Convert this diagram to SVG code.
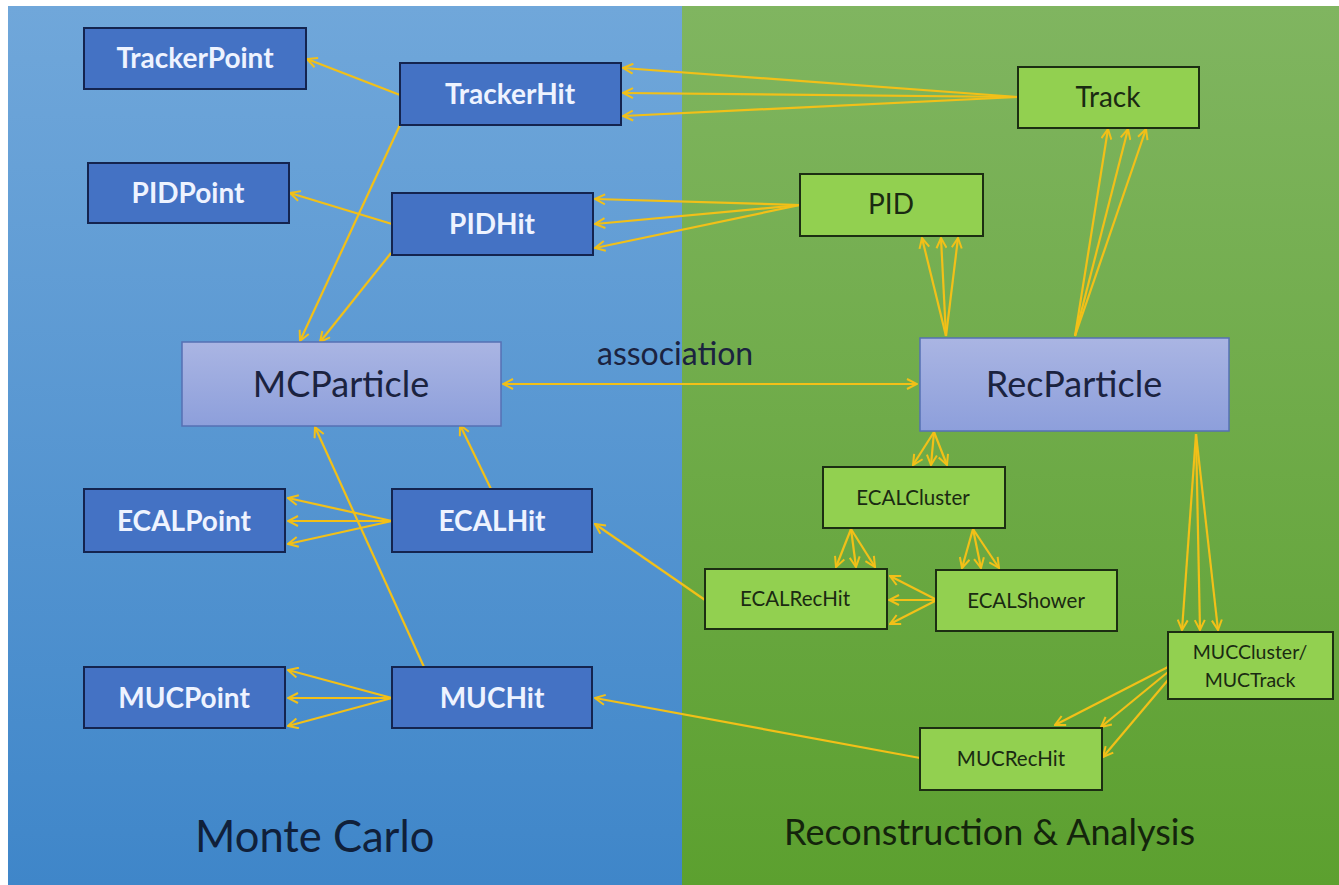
<svg xmlns="http://www.w3.org/2000/svg" width="1339" height="885" viewBox="0 0 1339 885">
  <defs>
    <linearGradient id="bgBlue" x1="0" y1="0" x2="0" y2="1">
      <stop offset="0" stop-color="#70a7da"/>
      <stop offset="1" stop-color="#3f86c9"/>
    </linearGradient>
    <linearGradient id="bgGreen" x1="0" y1="0" x2="0" y2="1">
      <stop offset="0" stop-color="#80b560"/>
      <stop offset="1" stop-color="#5ca02f"/>
    </linearGradient>
    <linearGradient id="particleFill" x1="0" y1="0" x2="0" y2="1">
      <stop offset="0" stop-color="#aab5e3"/>
      <stop offset="1" stop-color="#8d9fdb"/>
    </linearGradient>
    <marker id="head" viewBox="0 0 12 12" refX="11" refY="6" markerWidth="12" markerHeight="12" markerUnits="userSpaceOnUse" orient="auto-start-reverse">
      <path d="M1,1 L11,6 L1,11" fill="none" stroke="#f2c018" stroke-width="2"/>
    </marker>
  </defs>
  <style>
    .mc { fill: #4472c4; stroke: #14244f; stroke-width: 2; }
    .rec { fill: #92d050; stroke: #1c2e12; stroke-width: 2; }
    .part { fill: url(#particleFill); stroke: #5670b4; stroke-width: 1.5; }
    .tw { fill: #eef3ff; font-family: Lato, "Liberation Sans", sans-serif; font-weight: bold; text-anchor: middle; font-size: 28px; }
    .tg { fill: #1a2a12; font-family: Lato, "Liberation Sans", sans-serif; text-anchor: middle; }
    .tp { fill: #1b2340; font-family: Lato, "Liberation Sans", sans-serif; text-anchor: middle; }
    .cap { font-family: Lato, "Liberation Sans", sans-serif; }
    #connectors line { stroke: #f2c018; stroke-width: 2.2; marker-end: url(#head); }
  </style>

  <!-- background panels -->
  <rect x="0" y="0" width="1339" height="885" fill="#ffffff"/>
  <rect x="8" y="6" width="674" height="879" fill="url(#bgBlue)"/>
  <rect x="682" y="6" width="657" height="879" fill="url(#bgGreen)"/>

  <!-- connectors -->
  <g id="connectors">
    <line x1="400" y1="95" x2="307" y2="59"/>
    <line x1="392" y1="224" x2="290" y2="193"/>
    <line x1="1018" y1="97" x2="623" y2="68"/>
    <line x1="1018" y1="97" x2="623" y2="93"/>
    <line x1="1018" y1="97" x2="623" y2="116"/>
    <line x1="800" y1="205" x2="595" y2="199"/>
    <line x1="800" y1="205" x2="595" y2="224"/>
    <line x1="800" y1="205" x2="595" y2="248"/>
    <line x1="400" y1="125" x2="300" y2="341"/>
    <line x1="391" y1="253" x2="320" y2="342"/>
    <line x1="503" y1="384" x2="917" y2="384" marker-start="url(#head)"/>
    <line x1="946" y1="336" x2="922" y2="238"/>
    <line x1="946" y1="336" x2="941" y2="238"/>
    <line x1="946" y1="336" x2="958" y2="238"/>
    <line x1="1075" y1="336" x2="1108" y2="129"/>
    <line x1="1075" y1="336" x2="1128" y2="129"/>
    <line x1="1075" y1="336" x2="1146" y2="129"/>
    <line x1="934" y1="432" x2="913" y2="465"/>
    <line x1="934" y1="432" x2="931" y2="465"/>
    <line x1="934" y1="432" x2="947" y2="465"/>
    <line x1="851" y1="529" x2="836" y2="567"/>
    <line x1="851" y1="529" x2="856" y2="567"/>
    <line x1="851" y1="529" x2="875" y2="567"/>
    <line x1="973" y1="529" x2="962" y2="568"/>
    <line x1="973" y1="529" x2="981" y2="568"/>
    <line x1="973" y1="529" x2="999" y2="568"/>
    <line x1="937" y1="600" x2="890" y2="576"/>
    <line x1="937" y1="600" x2="889" y2="600"/>
    <line x1="937" y1="600" x2="890" y2="624"/>
    <line x1="705" y1="600" x2="595" y2="524"/>
    <line x1="491" y1="489" x2="460" y2="425"/>
    <line x1="424" y1="667" x2="315" y2="427"/>
    <line x1="392" y1="521" x2="288" y2="498"/>
    <line x1="392" y1="521" x2="288" y2="521"/>
    <line x1="392" y1="521" x2="288" y2="544"/>
    <line x1="392" y1="698" x2="288" y2="670"/>
    <line x1="392" y1="698" x2="288" y2="698"/>
    <line x1="392" y1="698" x2="288" y2="726"/>
    <line x1="1196" y1="434" x2="1182" y2="630"/>
    <line x1="1196" y1="434" x2="1200" y2="630"/>
    <line x1="1196" y1="434" x2="1218" y2="630"/>
    <line x1="1168" y1="667" x2="1055" y2="725"/>
    <line x1="1168" y1="672" x2="1101" y2="727"/>
    <line x1="1168" y1="680" x2="1103" y2="757"/>
    <line x1="920" y1="758" x2="595" y2="698"/>
  </g>

  <!-- Monte Carlo side -->
  <g id="TrackerPoint"><rect class="mc" x="84" y="28" width="222" height="61"/><text class="tw" x="195" y="68">TrackerPoint</text></g>
  <g id="TrackerHit"><rect class="mc" x="400" y="63" width="221" height="62"/><text class="tw" x="510" y="104">TrackerHit</text></g>
  <g id="PIDPoint"><rect class="mc" x="88" y="163" width="201" height="60"/><text class="tw" x="188" y="203">PIDPoint</text></g>
  <g id="PIDHit"><rect class="mc" x="392" y="193" width="201" height="62"/><text class="tw" x="492" y="234">PIDHit</text></g>
  <g id="MCParticle"><rect class="part" x="182" y="342" width="319" height="84"/><text class="tp" x="341" y="397" font-size="36">MCParticle</text></g>
  <g id="ECALPoint"><rect class="mc" x="84" y="489" width="201" height="63"/><text class="tw" x="184" y="531">ECALPoint</text></g>
  <g id="ECALHit"><rect class="mc" x="392" y="489" width="200" height="63"/><text class="tw" x="492" y="531">ECALHit</text></g>
  <g id="MUCPoint"><rect class="mc" x="84" y="667" width="201" height="61"/><text class="tw" x="184" y="708">MUCPoint</text></g>
  <g id="MUCHit"><rect class="mc" x="392" y="667" width="200" height="61"/><text class="tw" x="492" y="708">MUCHit</text></g>

  <!-- Reconstruction side -->
  <g id="Track"><rect class="rec" x="1018" y="67" width="181" height="61"/><text class="tg" x="1108" y="107" font-size="28">Track</text></g>
  <g id="PID"><rect class="rec" x="800" y="174" width="183" height="62"/><text class="tg" x="891" y="214" font-size="28">PID</text></g>
  <g id="RecParticle"><rect class="part" x="920" y="338" width="309" height="93"/><text class="tp" x="1074" y="397" font-size="36">RecParticle</text></g>
  <g id="ECALCluster"><rect class="rec" x="823" y="467" width="182" height="61"/><text class="tg" x="913" y="505" font-size="20.5">ECALCluster</text></g>
  <g id="ECALRecHit"><rect class="rec" x="705" y="569" width="182" height="60"/><text class="tg" x="795" y="606" font-size="20.5">ECALRecHit</text></g>
  <g id="ECALShower"><rect class="rec" x="936" y="570" width="181" height="61"/><text class="tg" x="1026" y="608" font-size="20.5">ECALShower</text></g>
  <g id="MUCCluster"><rect class="rec" x="1168" y="632" width="165" height="67"/><text class="tg" x="1250" y="659" font-size="19.5">MUCCluster/</text><text class="tg" x="1250" y="687" font-size="19.5">MUCTrack</text></g>
  <g id="MUCRecHit"><rect class="rec" x="920" y="728" width="182" height="62"/><text class="tg" x="1011" y="766" font-size="20.5">MUCRecHit</text></g>

  <!-- captions -->
  <text class="cap" x="597" y="365" font-size="32" fill="#1b2340">association</text>
  <text class="cap" x="195" y="852" font-size="43.5" fill="#10203a">Monte Carlo</text>
  <text class="cap" x="784" y="845" font-size="36" fill="#14240c">Reconstruction &amp; Analysis</text>
</svg>
